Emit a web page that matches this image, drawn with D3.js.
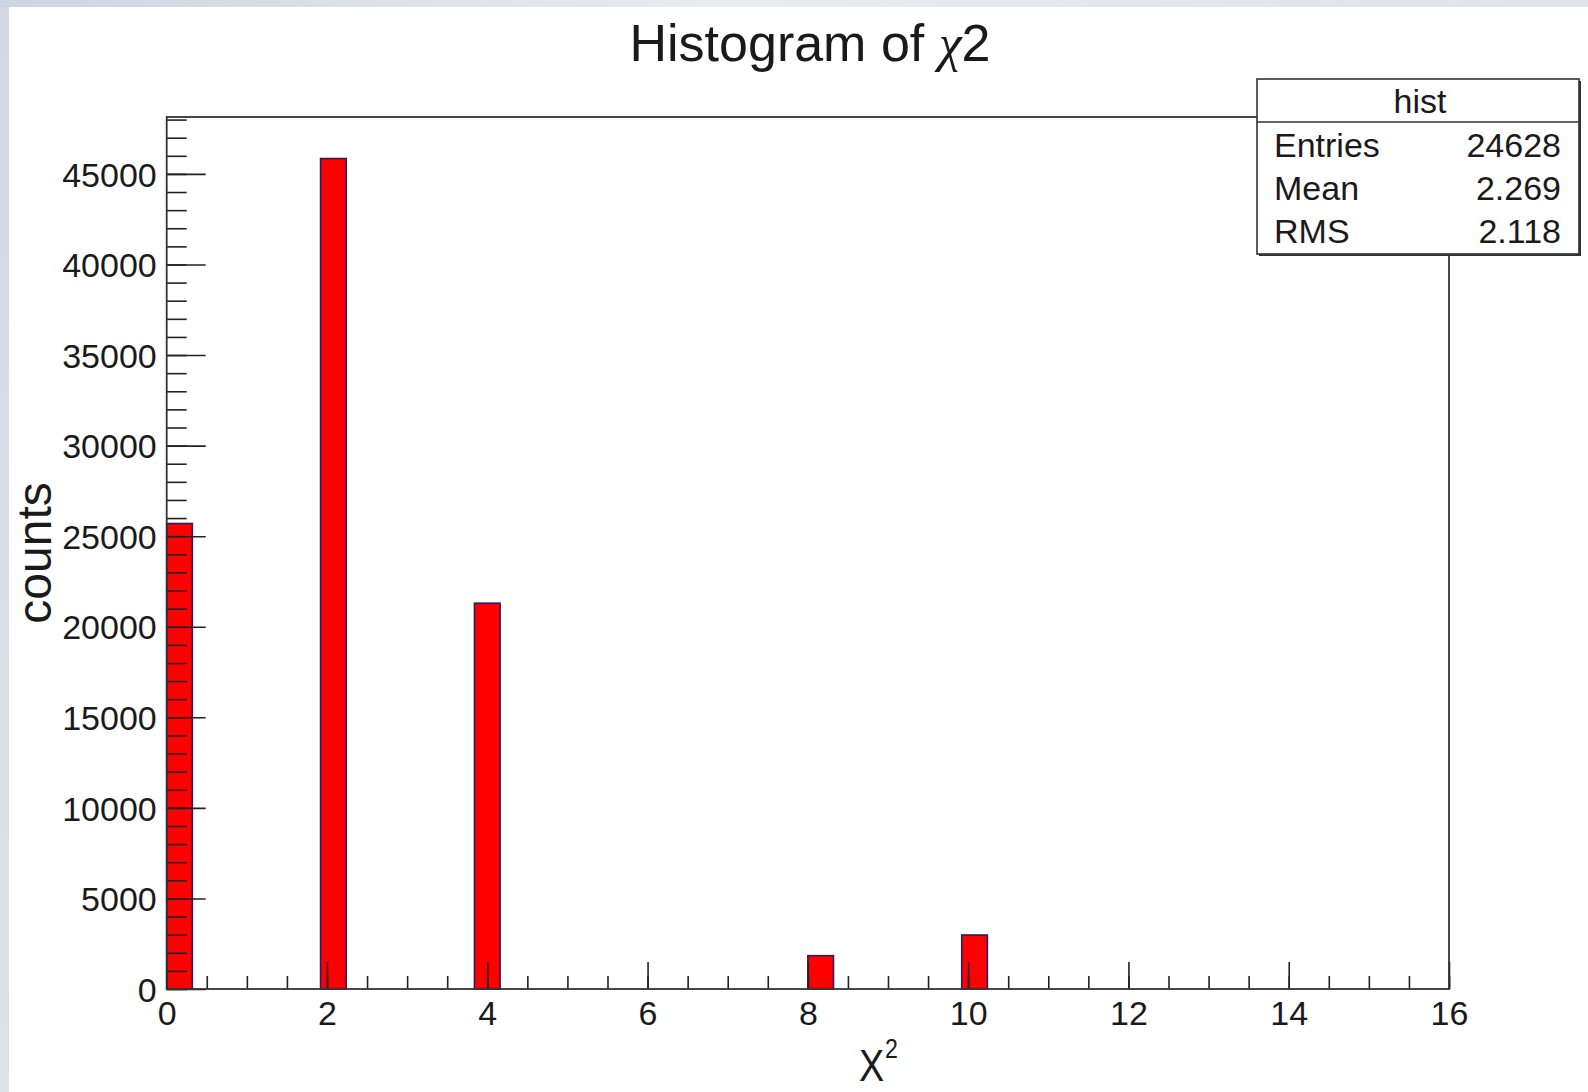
<!DOCTYPE html>
<html>
<head>
<meta charset="utf-8">
<script src="https://cdn.jsdelivr.net/npm/d3@7"></script>
<style>
  html, body { margin: 0; padding: 0; background: #ffffff; }
  svg { display: block; }
  text { font-family: "Liberation Sans", Arial, sans-serif; fill: #1a1a1a; }
</style>
</head>
<body>
<svg id="chart" width="1588" height="1092"></svg>
<script>
// ---------------- data ----------------
const histName = "hist";
const xMin = 0, xMax = 16, nBins = 50;            // histogram binning
const binLowEdges = [0, 1.92, 3.84, 8.0, 9.92];   // non-empty bins (low edge)
const binCounts   = [25700, 45850, 21300, 1840, 2980];
const xTickValues = [0, 2, 4, 6, 8, 10, 12, 14, 16];
const xTickLabels = ["0", "2", "4", "6", "8", "10", "12", "14", "16"];
const yTickValues = [0, 5000, 10000, 15000, 20000, 25000, 30000, 35000, 40000, 45000];
const yTickLabels = ["0", "5000", "10000", "15000", "20000", "25000", "30000", "35000", "40000", "45000"];
const statLabels = ["Entries", "Mean", "RMS"];
const statValues = ["24628", "2.269", "2.118"];
const titleText = "Histogram of ";
const yTitle = "counts";

// ---------------- layout ----------------
const W = 1588, H = 1092;
const plot = { left: 166.7, right: 1449, top: 117, bottom: 989 };
const binWidth = (xMax - xMin) / nBins;
const yMax = d3.max(binCounts) * 1.05;

const svg = d3.select("#chart");

// background
const defs = svg.append("defs");
const g1 = defs.append("linearGradient").attr("id", "bgGrad").attr("x1", 0).attr("x2", 1).attr("y1", 0).attr("y2", 0);
g1.append("stop").attr("offset", 0).attr("stop-color", "#cdd5e1");
g1.append("stop").attr("offset", 0.45).attr("stop-color", "#e9ecf1");
g1.append("stop").attr("offset", 1).attr("stop-color", "#dfe3ea");
svg.append("rect").attr("width", W).attr("height", H).attr("fill", "url(#bgGrad)");
const g2 = defs.append("linearGradient").attr("id", "leftGrad").attr("x1", 0).attr("x2", 0).attr("y1", 0).attr("y2", 1);
g2.append("stop").attr("offset", 0).attr("stop-color", "#d3d9e3");
g2.append("stop").attr("offset", 1).attr("stop-color", "#dde2ea");
svg.append("rect").attr("x", 0).attr("y", 7).attr("width", 9).attr("height", H - 7).attr("fill", "url(#leftGrad)");
svg.append("rect").attr("x", 9).attr("y", 7).attr("width", W - 9).attr("height", H - 7).attr("fill", "#ffffff");

const x = d3.scaleLinear().domain([xMin, xMax]).range([plot.left, plot.right]);
const y = d3.scaleLinear().domain([0, yMax]).range([plot.bottom, plot.top]);

// bars
svg.append("g").selectAll("rect")
  .data(binLowEdges.map((e, i) => ({ e, c: binCounts[i] })))
  .join("rect")
  .attr("x", d => x(d.e))
  .attr("width", d => x(d.e + binWidth) - x(d.e))
  .attr("y", d => y(d.c))
  .attr("height", d => y(0) - y(d.c))
  .attr("fill", "#ff0000")
  .attr("stroke", "#2c1a6a")
  .attr("stroke-width", 1.6);

// axes
const axisColor = "#222";
function styleAxis(g) {
  g.select(".domain").remove();
  g.selectAll(".tick line").attr("stroke", axisColor).attr("stroke-width", 1.6);
  g.selectAll("text").attr("font-size", 34).attr("fill", "#1a1a1a")
    .style("font-family", '"Liberation Sans", Arial, sans-serif');
}

// y minor
svg.append("g").attr("transform", `translate(${plot.left},0)`)
  .call(d3.axisLeft(y).tickValues(d3.range(0, yMax, 1000)).tickSize(-20).tickFormat(""))
  .call(styleAxis);
// y major
svg.append("g").attr("transform", `translate(${plot.left},0)`)
  .call(d3.axisLeft(y).tickValues(yTickValues).tickSize(-39).tickPadding(10)
    .tickFormat((d, i) => yTickLabels[i]))
  .call(styleAxis)
  .call(g => g.selectAll("text").attr("dy", "0.36em"));

// x minor
svg.append("g").attr("transform", `translate(0,${plot.bottom})`)
  .call(d3.axisBottom(x).tickValues(d3.range(xMin, xMax + 0.001, 0.5)).tickSize(-13).tickFormat(""))
  .call(styleAxis);
// x major
svg.append("g").attr("transform", `translate(0,${plot.bottom})`)
  .call(d3.axisBottom(x).tickValues(xTickValues).tickSize(-27).tickPadding(12)
    .tickFormat((d, i) => xTickLabels[i]))
  .call(styleAxis)
  .call(g => g.selectAll("text").attr("dy", "0.71em"));

// frame
svg.append("rect")
  .attr("x", plot.left).attr("y", plot.top)
  .attr("width", plot.right - plot.left).attr("height", plot.bottom - plot.top)
  .attr("fill", "none").attr("stroke", "#333").attr("stroke-width", 1.8);

// title
const t = svg.append("text").attr("x", 810).attr("y", 61).attr("text-anchor", "middle")
  .attr("font-size", 52);
t.append("tspan").text(titleText);
t.append("tspan").style("font-family", '"Liberation Serif", "DejaVu Serif", serif').style("font-style", "italic").text("χ");
t.append("tspan").text("2");

// x title (X with superscript 2, one text element)
const xt = svg.append("text").attr("transform", "translate(859,1081) scale(0.86,1)").attr("font-size", 44);
xt.append("tspan").text("X");
xt.append("tspan").attr("font-size", 27).attr("dx", 1).attr("dy", -23).text("2");

// y title
svg.append("text")
  .attr("transform", `translate(51,553) rotate(-90)`)
  .attr("text-anchor", "middle")
  .attr("font-size", 48)
  .text(yTitle);

// stats box
const box = { x: 1257, y: 79, w: 322, h: 175, head: 43 };
svg.append("rect").attr("x", box.x + 2).attr("y", box.y + 2).attr("width", box.w).attr("height", box.h).attr("fill", "#333");
svg.append("rect").attr("x", box.x).attr("y", box.y).attr("width", box.w).attr("height", box.h)
  .attr("fill", "#fff").attr("stroke", "#333").attr("stroke-width", 1.6);
svg.append("line").attr("x1", box.x).attr("x2", box.x + box.w).attr("y1", box.y + box.head).attr("y2", box.y + box.head)
  .attr("stroke", "#333").attr("stroke-width", 1.6);
svg.append("text").attr("x", box.x + box.w / 2 + 2).attr("y", 113).attr("text-anchor", "middle")
  .attr("font-size", 34).text(histName);
const rowBase = [157, 200, 243];
statLabels.forEach((lab, i) => {
  svg.append("text").attr("x", 1274).attr("y", rowBase[i]).attr("font-size", 34).text(lab);
  svg.append("text").attr("x", 1561).attr("y", rowBase[i]).attr("text-anchor", "end").attr("font-size", 34).text(statValues[i]);
});
</script>
</body>
</html>
